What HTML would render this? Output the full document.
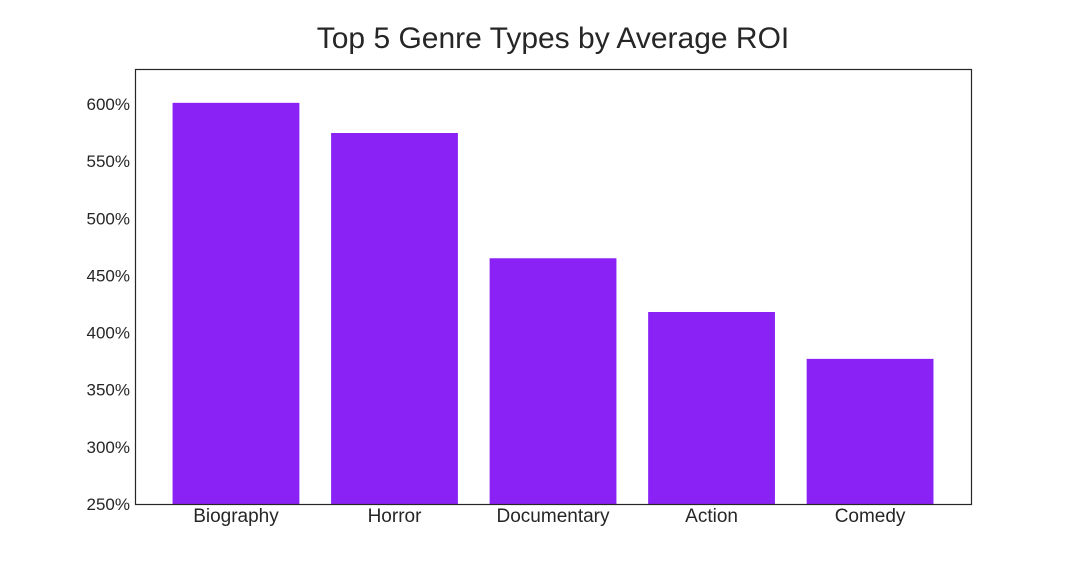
<!DOCTYPE html>
<html><head><meta charset="utf-8"><style>
body{margin:0;background:#fff;width:1080px;height:576px;overflow:hidden;font-family:"Liberation Sans",Arial,sans-serif}
</style></head><body>
<svg id="chart" width="1080" height="576" xmlns="http://www.w3.org/2000/svg">
<text x="553" y="48" text-anchor="middle" font-size="30" fill="#262626">Top 5 Genre Types by Average ROI</text>
<g id="yticks"></g>
<g id="bars"></g>
<g id="xticks"></g>
<rect x="135.5" y="69.5" width="836" height="435" fill="none" stroke="#262626" stroke-width="1.2"/>
</svg>
<script>
const categories=["Biography","Horror","Documentary","Action","Comedy"];
const roiValues=[601,574.6,465,418,377];
const yTickValues=[250,300,350,400,450,500,550,600];
const yTickLabels=["250%","300%","350%","400%","450%","500%","550%","600%"];
const L=135,R=972,T=69,B=504,yMin=250,yMax=630.6,xMin=-0.637,xMax=4.643;
const ns="http://www.w3.org/2000/svg";
const sy=v=>B-(v-yMin)/(yMax-yMin)*(B-T);
const sx=v=>L+(v-xMin)/(xMax-xMin)*(R-L);
const unit=(R-L)/(xMax-xMin);
function mk(t,a){const e=document.createElementNS(ns,t);for(const k in a)e.setAttribute(k,a[k]);return e;}
const bars=document.getElementById('bars'),xt=document.getElementById('xticks'),yt=document.getElementById('yticks');
categories.forEach((c,i)=>{
 const r=mk('rect',{x:sx(i)-0.4*unit,y:sy(roiValues[i]),width:0.8*unit,height:B-sy(roiValues[i]),fill:'#8a22f5'});
 
 
 bars.appendChild(r);
 const t=mk('text',{x:sx(i),y:B+18,'text-anchor':'middle','font-size':'19',fill:'#262626'});
 
 
 t.textContent=c;xt.appendChild(t);
});
yTickValues.forEach((v,i)=>{
 const t=mk('text',{x:L-5,y:sy(v)+6,'text-anchor':'end','font-size':'17',fill:'#262626'});
 
 
 t.textContent=yTickLabels[i];yt.appendChild(t);
});
</script>
</body></html>
